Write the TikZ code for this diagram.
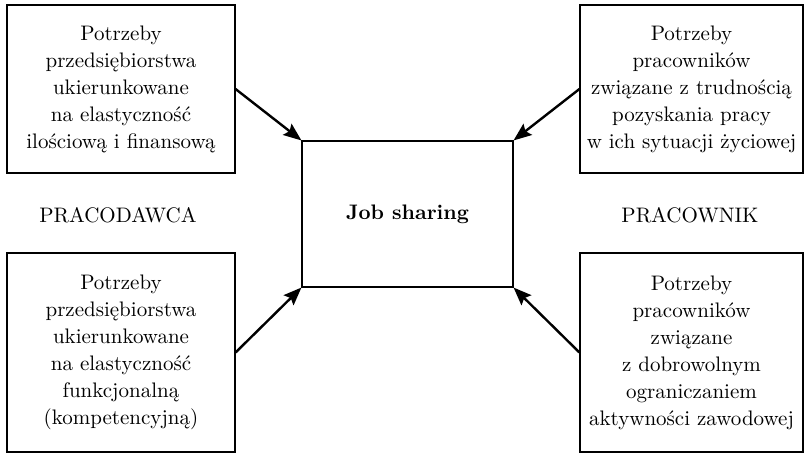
\documentclass[tikz,border=0pt]{standalone}
\usepackage{tikz}
\usetikzlibrary{positioning,arrows.meta}

\begin{document}
\begin{tikzpicture}[x=0.5pt,y=-0.5pt,
        needbox/.style={draw,line width=0.55pt,inner sep=0pt,align=center,font=\fontsize{10.5}{13.5}\selectfont},
        sidelabel/.style={font=\fontsize{10.5}{13.5}\selectfont},
        pointer/.style={line width=1.2pt,-{Stealth[length=9pt,width=7pt,inset=1.5pt]}}]
        \useasboundingbox (0,0) rectangle (805,454);
        \node[needbox,minimum width=114pt,minimum height=84pt] (tl) at (121,89) {Potrzeby\\przedsiębiorstwa\\ukierunkowane\\na elastyczność\\ilościową i finansową};
        \node[needbox,minimum width=111.5pt,minimum height=84pt] (tr) at (691.5,89) {Potrzeby\\pracowników\\związane z trudnością\\pozyskania pracy\\w ich sytuacji życiowej};
        \node[needbox,minimum width=114pt,minimum height=99.5pt] (bl) at (121,352.5) {Potrzeby\\przedsiębiorstwa\\ukierunkowane\\na elastyczność\\funkcjonalną\\(kompetencyjną)};
        \node[needbox,minimum width=111.5pt,minimum height=99.5pt] (br) at (691.5,352.5) {Potrzeby\\pracowników\\związane\\z dobrowolnym\\ograniczaniem\\aktywności zawodowej};
        \node[needbox,minimum width=105.5pt,minimum height=73pt,font=\fontsize{10.5}{13.5}\selectfont\bfseries] (job) at (407.5,214) {Job sharing};
        \node[sidelabel] (employer) at (118,215) {PRACODAWCA};
        \node[sidelabel] (employee) at (690,215) {PRACOWNIK};
        \draw[pointer] (tl.east) -- (job.north west);
        \draw[pointer] (tr.west) -- (job.north east);
        \draw[pointer] (bl.east) -- (job.south west);
        \draw[pointer] (br.west) -- (job.south east);
    \end{tikzpicture}
\end{document}
